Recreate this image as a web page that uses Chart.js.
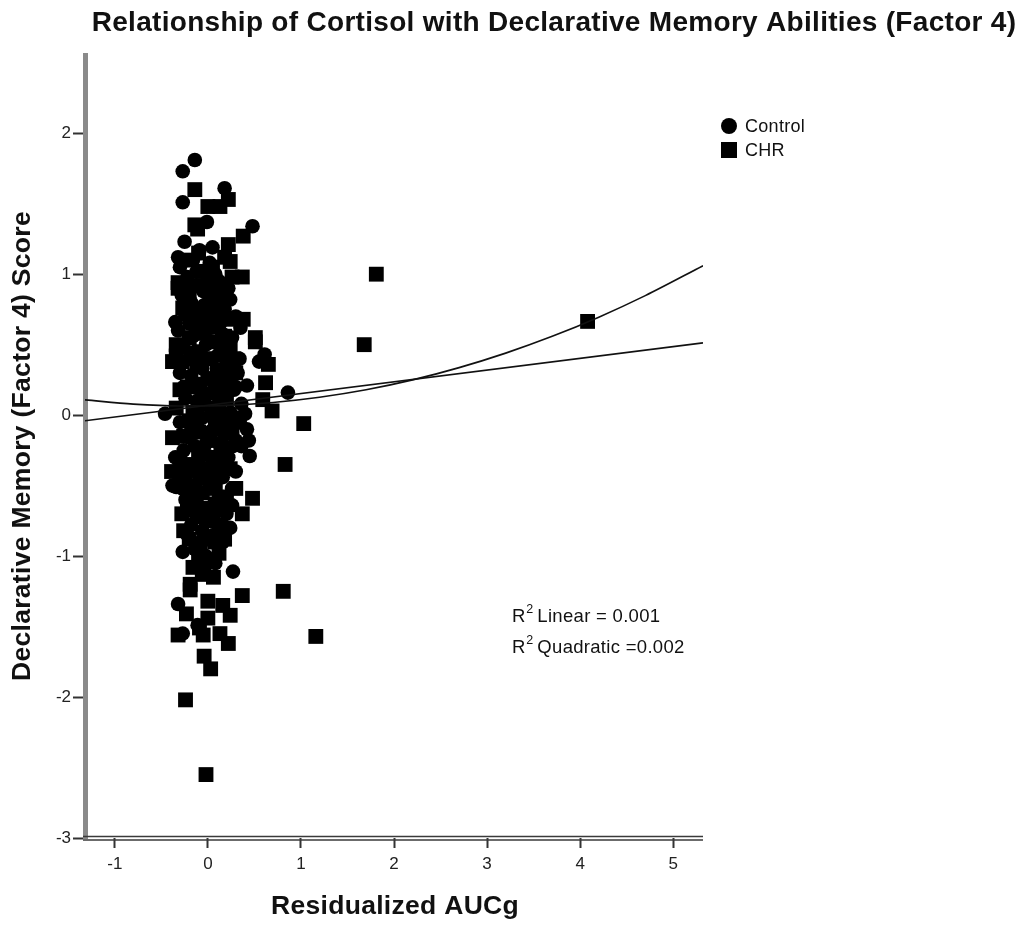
<!DOCTYPE html>
<html><head><meta charset="utf-8">
<script src="https://cdn.jsdelivr.net/npm/chart.js@4/dist/chart.umd.min.js"></script>
<style>html,body{margin:0;padding:0;background:#fff;} canvas{display:block;}</style>
</head><body>
<canvas id="c" width="1026" height="925"></canvas>
<script>
const titleText = "Relationship of Cortisol with Declarative Memory Abilities (Factor 4)";
const xTitle = "Residualized AUCg";
const yTitle = "Declarative Memory (Factor 4) Score";
const seriesNames = ["Control", "CHR"];
const xTicks = [-1, 0, 1, 2, 3, 4, 5];
const yTicks = [-3, -2, -1, 0, 1, 2];
const fitLabels = ["Linear = 0.001", "Quadratic =0.002"];

const controlPoints = [
  [-0.14,1.81],[-0.27,1.73],[0.18,1.61],[-0.27,1.51],[-0.01,1.37],[0.48,1.34],[-0.25,1.23],[-0.09,1.17],
  [0.05,1.19],[-0.32,1.12],[0.24,0.82],[-0.35,0.66],[0.61,0.43],[0.42,0.21],[0.86,0.16],[-0.46,0.01],
  [0.40,0.01],[0.42,-0.10],[0.45,-0.29],[0.44,-0.18],[-0.38,-0.50],[-0.27,-0.97],[0.27,-1.11],[-0.32,-1.34],
  [-0.27,-1.55],[-0.11,-1.49],[0.55,0.38],[0.35,0.62],[0.30,0.20],[0.27,-0.22],
  [-0.30,1.05],[-0.22,0.98],[-0.12,1.02],[0.02,1.08],[0.12,0.95],[0.22,0.90],
  [-0.28,0.85],[-0.18,0.80],[-0.05,0.88],[0.08,0.82],[0.18,0.75],[0.30,0.70],
  [-0.32,0.60],[-0.20,0.65],[-0.08,0.70],[0.04,0.62],[0.15,0.58],[0.26,0.55],
  [-0.26,0.48],[-0.14,0.45],[-0.02,0.50],[0.10,0.42],[0.20,0.38],[0.34,0.40],
  [-0.30,0.30],[-0.18,0.28],[-0.06,0.33],[0.06,0.25],[0.16,0.22],[0.28,0.18],
  [-0.24,0.12],[-0.12,0.10],[0.00,0.15],[0.12,0.06],[0.24,0.02],[0.36,0.08],
  [-0.30,-0.05],[-0.18,-0.08],[-0.06,-0.02],[0.06,-0.10],[0.18,-0.14],[0.30,-0.18],
  [-0.26,-0.25],[-0.14,-0.22],[-0.02,-0.28],[0.10,-0.32],[0.22,-0.30],[0.36,-0.22],
  [-0.32,-0.42],[-0.20,-0.40],[-0.08,-0.45],[0.04,-0.48],[0.16,-0.44],[0.26,-0.52],
  [-0.24,-0.60],[-0.12,-0.62],[0.00,-0.66],[0.12,-0.58],[0.20,-0.70],
  [-0.18,-0.78],[-0.06,-0.82],[0.06,-0.85],[0.16,-0.90],
  [-0.14,-0.95],[-0.02,-1.00],[0.08,-1.05],[-0.35,-0.30],[-0.34,-0.51],
  [-0.22,0.90],[-0.04,0.78],[0.14,0.66],[-0.16,0.56],[0.02,0.40],[0.22,0.46],[-0.26,0.20],[-0.08,0.18],
  [0.10,0.14],[-0.20,-0.16],[0.02,-0.12],[0.20,-0.05],[-0.10,-0.34],[0.12,-0.20],[-0.28,-0.52],[0.08,-0.38],
  [-0.16,-0.68],[0.06,-0.72],[-0.08,-0.90],[0.18,-0.62],[0.24,-0.80],[-0.22,-0.85],[0.30,-0.40],[0.32,0.30],
  [0.08,1.00],[-0.16,1.10],
  [-0.12,0.62],[0.02,0.70],[0.18,0.30],[-0.14,0.20],[0.06,0.00],[-0.02,-0.20],[0.16,-0.36],[-0.14,-0.50],
  [0.10,-0.66],[-0.04,-0.74],[0.26,-0.64],[0.12,-0.82]
];
const chrPoints = [
  [1.81,1.00],[1.68,0.50],[4.08,0.665],[1.03,-0.06],[0.83,-0.35],[0.81,-1.25],[1.16,-1.57],[0.48,-0.59],
  [0.37,-0.70],[0.37,-1.28],[-0.24,-2.02],[-0.02,-2.55],[0.03,-1.80],[-0.04,-1.71],[-0.32,-1.56],[0.22,-1.62],
  [0.13,-1.55],[-0.05,-1.56],[-0.09,-1.51],[0.00,-1.44],[0.24,-1.42],[-0.23,-1.41],[0.16,-1.35],[0.00,-1.32],
  [-0.19,-1.20],[-0.19,-1.24],[-0.06,-1.13],[0.05,-1.03],[-0.14,1.60],[0.00,1.48],[0.22,1.53],[0.13,1.48],
  [-0.14,1.35],[-0.11,1.32],[0.38,1.27],[0.22,1.21],[0.24,1.09],[0.37,0.98],[-0.32,0.94],[-0.27,0.76],
  [0.38,0.68],[0.51,0.55],[0.51,0.52],[0.65,0.36],[-0.38,0.38],[0.62,0.23],[0.59,0.11],[0.69,0.03],
  [-0.38,-0.16],[-0.39,-0.40],[0.08,-0.63],[-0.34,0.42],
  [-0.25,1.10],[-0.10,1.15],[0.05,1.05],[0.18,1.12],
  [-0.32,0.90],[-0.15,0.92],[0.00,0.95],[0.14,0.88],[0.26,0.98],
  [-0.24,0.72],[-0.10,0.75],[0.06,0.70],[0.22,0.68],
  [-0.34,0.50],[-0.20,0.55],[-0.04,0.58],[0.10,0.52],[0.24,0.48],
  [-0.28,0.38],[-0.12,0.36],[0.02,0.40],[0.14,0.32],[0.30,0.30],
  [-0.22,0.20],[-0.08,0.22],[0.08,0.18],[0.20,0.12],
  [-0.34,0.05],[-0.16,0.02],[0.04,0.05],[0.16,-0.02],[0.32,-0.05],
  [-0.26,-0.15],[-0.10,-0.12],[0.02,-0.18],[0.14,-0.22],[0.26,-0.10],
  [-0.30,-0.32],[-0.16,-0.35],[-0.02,-0.38],[0.12,-0.40],[0.24,-0.38],
  [-0.22,-0.52],[-0.06,-0.55],[0.08,-0.52],[0.20,-0.58],
  [-0.28,-0.70],[-0.12,-0.72],[0.04,-0.75],[0.14,-0.78],
  [-0.20,-0.88],[-0.08,-0.92],[0.02,-0.88],[0.12,-0.98],
  [-0.16,-1.08],[-0.04,-1.12],[0.06,-1.15],
  [-0.06,1.02],[0.10,0.78],[-0.18,0.66],[0.18,0.56],[-0.08,0.45],[0.28,0.40],[-0.30,0.18],[0.10,0.30],
  [-0.04,0.08],[0.24,0.22],[-0.20,-0.04],[0.08,-0.06],[-0.10,-0.25],[0.20,-0.28],[-0.24,-0.42],[0.02,-0.45],
  [-0.14,-0.58],[0.16,-0.66],[-0.02,-0.66],[-0.26,-0.82],[0.08,-0.90],[-0.10,-1.02],[0.30,-0.52],[0.34,-0.02],
  [-0.20,0.88],[0.02,0.86],[-0.06,0.64],[0.14,0.44],[-0.18,0.40],[0.00,0.26],[-0.12,-0.02],[0.12,-0.10],
  [-0.08,-0.42],[0.06,-0.30],[-0.22,-0.66],[0.18,-0.88]
];
const linearFit = [[-1.32,-0.040],[5.32,0.513]];
const quadraticFit = [[-1.32,0.108],[-0.8,0.078],[-0.3,0.065],[0.2,0.069],[0.7,0.090],[1.2,0.127],[1.7,0.180],
  [2.2,0.250],[2.7,0.337],[3.2,0.440],[3.7,0.559],[4.2,0.695],[4.7,0.848],[5.32,1.060]];

const FONT = "'Liberation Sans', Arial, Helvetica, sans-serif";
const toXY = arr => arr.map(p => ({x: p[0], y: p[1]}));

function spaced(ctx, text, x, y, spacing) {
  ctx.letterSpacing = spacing + 'px';
  ctx.fillText(text, x, y);
  ctx.letterSpacing = '0px';
}

const decor = {
  id: 'decor',
  afterDraw(chart) {
    const ctx = chart.ctx, a = chart.chartArea;
    ctx.save();
    // double x-axis line
    ctx.strokeStyle = '#3a3a3a'; ctx.lineWidth = 1.5;
    [a.bottom - 1.5, a.bottom + 2].forEach(y => { ctx.beginPath(); ctx.moveTo(a.left - 2, y); ctx.lineTo(a.right, y); ctx.stroke(); });
    // title
    ctx.fillStyle = '#111'; ctx.textBaseline = 'middle'; ctx.textAlign = 'center';
    ctx.font = 'bold 28px ' + FONT;
    spaced(ctx, titleText, 554, 23, 0.3);
    // axis titles
    ctx.font = 'bold 26.5px ' + FONT;
    spaced(ctx, xTitle, 395, 907, 0.3);
    ctx.save();
    ctx.translate(23, 446); ctx.rotate(-Math.PI / 2);
    spaced(ctx, yTitle, 0, 0, 0.3);
    ctx.restore();
    // legend
    ctx.textAlign = 'left'; ctx.font = '18px ' + FONT; ctx.fillStyle = '#000';
    ctx.beginPath(); ctx.arc(729, 126, 8, 0, Math.PI * 2); ctx.fill();
    ctx.fillRect(721, 142, 16, 16);
    ctx.fillStyle = '#111';
    spaced(ctx, seriesNames[0], 745, 127, 0.3);
    spaced(ctx, seriesNames[1], 745, 151, 0.3);
    // R2 labels
    const rows = [617, 648];
    fitLabels.forEach((t, i) => {
      ctx.font = '18.5px ' + FONT;
      ctx.fillText('R', 512, rows[i]);
      const w = ctx.measureText('R').width;
      ctx.font = '12.5px ' + FONT;
      ctx.fillText('2', 512 + w + 1, rows[i] - 7);
      ctx.font = '18.5px ' + FONT;
      spaced(ctx, t, 512 + w + 12, rows[i], 0.3);
    });
    ctx.restore();
  }
};

new Chart(document.getElementById('c'), {
  type: 'scatter',
  data: {
    datasets: [
      { label: 'Linear fit', type: 'line', data: toXY(linearFit), borderColor: '#111', borderWidth: 1.6, pointRadius: 0, fill: false, order: 1 },
      { label: 'Quadratic fit', type: 'line', data: toXY(quadraticFit), borderColor: '#111', borderWidth: 1.6, pointRadius: 0, fill: false, cubicInterpolationMode: 'monotone', order: 1 },
      { label: seriesNames[0], data: toXY(controlPoints), pointStyle: 'circle', pointRadius: 7.3, backgroundColor: '#000', borderColor: '#000', borderWidth: 0, order: 2 },
      { label: seriesNames[1], data: toXY(chrPoints), pointStyle: 'rect', pointRadius: 10.5, backgroundColor: '#000', borderColor: '#000', borderWidth: 0, order: 2 }
    ]
  },
  options: {
    responsive: false, animation: false, devicePixelRatio: 1,
    layout: { padding: { left: 0, right: 323, top: 55, bottom: 0 } },
    plugins: { legend: { display: false }, title: { display: false }, tooltip: { enabled: false } },
    elements: { point: { hoverRadius: 0 } },
    scales: {
      x: {
        type: 'linear', min: -1.32, max: 5.32,
        afterBuildTicks: s => { s.ticks = xTicks.map(v => ({ value: v })); },
        afterFit: s => { s.height = 87; },
        ticks: { font: { family: FONT, size: 17 }, color: '#222', padding: 6, maxRotation: 0 },
        grid: { drawOnChartArea: false, drawTicks: true, tickLength: 10, tickWidth: 2, tickColor: '#333' },
        border: { display: false },
        title: { display: false }
      },
      y: {
        type: 'linear', min: -3, max: 2.555,
        afterBuildTicks: s => { s.ticks = yTicks.map(v => ({ value: v })); },
        afterFit: s => { s.width = 85; },
        ticks: { font: { family: FONT, size: 17 }, color: '#222', padding: 2 },
        grid: { drawOnChartArea: false, drawTicks: true, tickLength: 12, tickWidth: 2, tickColor: '#333' },
        border: { display: true, color: '#8a8a8a', width: 5 },
        title: { display: false }
      }
    }
  },
  plugins: [decor]
});
</script>
</body></html>
